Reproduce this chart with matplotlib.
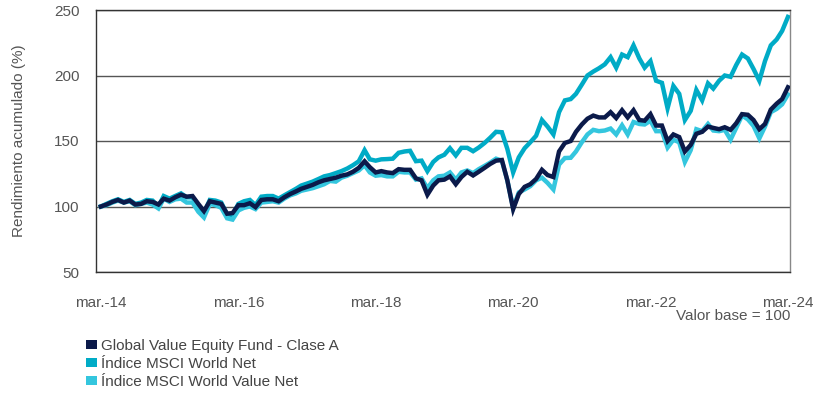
import numpy as np
import pandas as pd
import matplotlib
matplotlib.use('Agg')
import matplotlib.pyplot as plt
from matplotlib.patches import Patch

plt.rcParams['font.family'] = ['Liberation Sans Narrow', 'Liberation Sans', 'DejaVu Sans']

# monthly dates, mar-14 .. mar-24
dates = pd.date_range('2014-03-31', periods=121, freq='ME')

fund = [100, 101.5, 103.5, 105, 103, 104.5, 101.5, 102, 104, 103.5, 101.5, 106,
        104.5, 107, 109, 107.5, 108, 102, 96.5, 104, 103, 102, 94.5, 95,
        101, 101, 102.5, 99.5, 105, 105.5, 105.5, 104, 107, 109.5, 111.5, 113.5,
        115, 116.5, 118.5, 120, 121, 122, 123.5, 124.5, 126.5, 129.5, 134.5, 130,
        126, 127, 126, 125.5, 128.5, 128, 128, 121.5, 120, 109, 116, 120,
        120.5, 123, 117, 122.5, 126.5, 123.7, 126.5, 129.5, 132.5, 135, 135.5, 120,
        98, 109.5, 115, 117, 121, 128, 124, 122.5, 142, 148.5, 150, 157,
        162.6, 167, 169.4, 168, 168, 172, 167.5, 173.5, 168, 173.5, 166, 165.5,
        170.5, 161.8, 161.8, 150, 155, 153, 142, 147, 155.5, 157, 161, 160,
        159, 160.5, 158.5, 163.5, 170.5, 170, 166, 159, 163, 174, 178.5, 182,
        191]

world = [100, 102, 104, 105.5, 103.5, 105, 102, 103, 105, 104.5, 100, 108,
         106, 108, 110, 107, 107, 100, 95, 105, 104.5, 103, 94, 93.5,
         102, 104, 105, 101, 107.5, 108, 108, 106, 108.5, 111, 113.5, 116,
         117.5, 119, 121, 123, 124, 125.5, 127, 129, 131.5, 134.5, 143, 136,
         135, 136, 136.2, 136.5, 141, 142, 142.5, 134.6, 135, 127, 134, 137.5,
         139.5, 144.5, 139, 144.8, 144.8, 142.2, 145, 148.5, 152.5, 157, 156.7, 144,
         126, 137.5, 144.5, 149, 154, 166, 161, 155, 172, 181, 182, 186,
         193, 200, 203, 205.5, 208.5, 214, 206, 216, 214, 223, 213, 206,
         211, 196, 194.4, 175, 192, 186, 166, 173, 189, 181, 194, 190,
         196, 200, 199, 208, 216, 213, 205, 196, 211, 223, 227.5, 234,
         244.7]

value = [100, 101, 103, 104.5, 103, 104, 101, 102, 103, 101.5, 98.5, 106,
         103.5, 105.5, 106, 103, 103, 96, 91.6, 102, 101, 99, 91, 90,
         97, 99, 100, 98, 103, 103.5, 104, 103, 106, 108.5, 110, 112,
         113, 114, 115.5, 117, 119.5, 119, 122, 123.5, 125.5, 127.5, 131.5, 126,
         123.5, 124, 123, 123, 126.5, 126, 126, 120.5, 121.5, 114, 120, 123,
         123.5, 126, 120.5, 126, 127.5, 125.5, 128.5, 131, 133.5, 136.5, 135, 120,
         99, 110.7, 113, 115.5, 120, 122, 118, 113, 132, 137, 137.2, 142,
         149, 155, 158.5, 157.5, 158, 159.5, 155, 162, 155, 164.5, 163, 162.6,
         165.5, 157.5, 157.5, 145, 151, 149, 134, 143, 159, 157.5, 163, 158,
         157.5, 158.5, 151, 160, 169.5, 166.5, 161.5, 152, 161, 172, 174.5, 178,
         185.5]

labels = ['Global Value Equity Fund - Clase A',
          'Índice MSCI World Net',
          'Índice MSCI World Value Net']
colors = ['#0b1a4a', '#00abc6', '#34c6de']

tick_dates = pd.to_datetime(['2014-03-31', '2016-03-31', '2018-03-31',
                             '2020-03-31', '2022-03-31', '2024-03-31'])
tick_labels = ['mar.-14', 'mar.-16', 'mar.-18', 'mar.-20', 'mar.-22', 'mar.-24']

fig = plt.figure(figsize=(8.32, 4.03), dpi=100)
ax = fig.add_axes([96/832, 1 - 272/403, (790-96)/832, (272-10)/403])

ax.plot(dates, world, color=colors[1], lw=3.2, zorder=3, solid_joinstyle='miter')
ax.plot(dates, value, color=colors[2], lw=3.2, zorder=3, solid_joinstyle='miter')
ax.plot(dates, fund, color=colors[0], lw=3.2, zorder=4, solid_joinstyle='miter')

ax.set_ylim(50, 250)
ax.set_yticks([50, 100, 150, 200, 250])
ax.set_xlim(pd.Timestamp('2014-03-05'), pd.Timestamp('2024-04-11'))
ax.set_xticks(tick_dates)
ax.set_xticklabels(tick_labels)

ax.grid(axis='y', color='#555555', lw=1)
ax.set_axisbelow(True)
for s in ax.spines.values():
    s.set_color('#333333')
    s.set_linewidth(1)
ax.spines['right'].set_color('#888888')
ax.tick_params(length=0, labelsize=11, colors='#555555')
ax.tick_params(axis='x', pad=17)
ax.tick_params(axis='y', pad=12)

ax.set_ylabel('Rendimiento acumulado (%)', fontsize=11, color='#555555', labelpad=20)

fig.text(790/832, 1 - 316/403, 'Valor base = 100', ha='right', va='center',
         fontsize=11, color='#555555')

handles = [Patch(facecolor=c, edgecolor='none') for c in colors]
fig.legend(handles, labels, loc='upper left', bbox_to_anchor=(86/832, 1 - 339/403),
           frameon=False, fontsize=11, handlelength=0.75, handleheight=0.5,
           handletextpad=0.2, labelspacing=0.25, borderaxespad=0, borderpad=0,
           labelcolor='#444444')

plt.savefig('out.png', dpi=100)
